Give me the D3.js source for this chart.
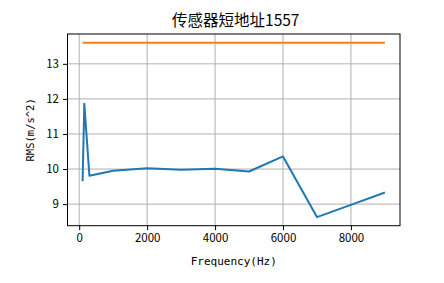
<!DOCTYPE html>
<html><head><meta charset="utf-8">
<script src="https://cdn.jsdelivr.net/npm/d3@7"></script>
<style>body{margin:0;background:#fff}svg{display:block}</style>
</head><body>
<svg id="c" width="444" height="283"></svg>
<script>
const title = "传感器短地址1557";
const xLabel = "Frequency(Hz)";
const yLabel = "RMS(m/s^2)";
const freqs = [100, 150, 300, 1000, 2000, 3000, 4000, 5000, 6000, 7000, 8000, 9000];
const rms = [9.65, 11.86, 9.81, 9.95, 10.02, 9.98, 10.01, 9.93, 10.36, 8.63, 8.98, 9.33];
const limitX = [100, 9000];
const limitY = [13.6, 13.6];
const xTicks = [0, 2000, 4000, 6000, 8000];
const yTicks = [9, 10, 11, 12, 13];

const svg = d3.select("#c");
const L = 67.5, R = 400, T = 34, B = 225.7;
const x = d3.scaleLinear().domain([-345, 9445]).range([L, R]);
const y = d3.scaleLinear().domain([8.385, 13.85]).range([B, T]);

// grid
const g = svg.append("g");
g.selectAll(".vx").data(xTicks).join("line")
  .attr("x1", d => x(d)).attr("x2", d => x(d)).attr("y1", T).attr("y2", B)
  .attr("stroke", "#b0b0b0").attr("stroke-width", 1);
g.selectAll(".hy").data(yTicks).join("line")
  .attr("y1", d => y(d)).attr("y2", d => y(d)).attr("x1", L).attr("x2", R)
  .attr("stroke", "#b0b0b0").attr("stroke-width", 1);

const line = d3.line().x(d => x(d[0])).y(d => y(d[1]));
svg.append("path").datum(freqs.map((f, i) => [f, rms[i]]))
  .attr("d", line).attr("fill", "none").attr("stroke", "#1f77b4")
  .attr("stroke-width", 2).attr("stroke-linejoin", "round");
svg.append("path").datum(limitX.map((f, i) => [f, limitY[i]]))
  .attr("d", line).attr("fill", "none").attr("stroke", "#ff7f0e")
  .attr("stroke-width", 2);

// axes
const xa = svg.append("g").attr("transform", `translate(0,${B})`)
  .call(d3.axisBottom(x).tickValues(xTicks).tickFormat(d3.format("d")).tickSizeOuter(0).tickSize(4.5).tickPadding(4));
const ya = svg.append("g").attr("transform", `translate(${L},0)`)
  .call(d3.axisLeft(y).tickValues(yTicks).tickFormat(d3.format("d")).tickSizeOuter(0).tickSize(4.5).tickPadding(4));
[xa, ya].forEach(a => {
  a.select(".domain").remove();
  a.selectAll("text").attr("font-family", "'Noto Sans CJK SC', sans-serif").attr("font-size", 11.5).attr("fill", "#000");
  a.selectAll("line").attr("stroke", "#000");
});
svg.append("rect").attr("x", L).attr("y", T).attr("width", R - L).attr("height", B - T)
  .attr("fill", "none").attr("stroke", "#000").attr("stroke-width", 1);

svg.append("text").attr("x", (L + R) / 2 + 2).attr("y", 25.5).attr("text-anchor", "middle")
  .attr("font-family", "'Noto Sans CJK SC', sans-serif").attr("font-size", 15.5).text(title);
svg.append("text").attr("x", (L + R) / 2).attr("y", 265).attr("text-anchor", "middle")
  .attr("font-family", "'DejaVu Sans Mono', monospace").attr("font-size", 11).text(xLabel);
svg.append("text").attr("transform", `translate(34,${(T + B) / 2}) rotate(-90)`).attr("text-anchor", "middle")
  .attr("font-family", "'DejaVu Sans Mono', monospace").attr("font-size", 10.5).text(yLabel);
</script>
</body></html>
